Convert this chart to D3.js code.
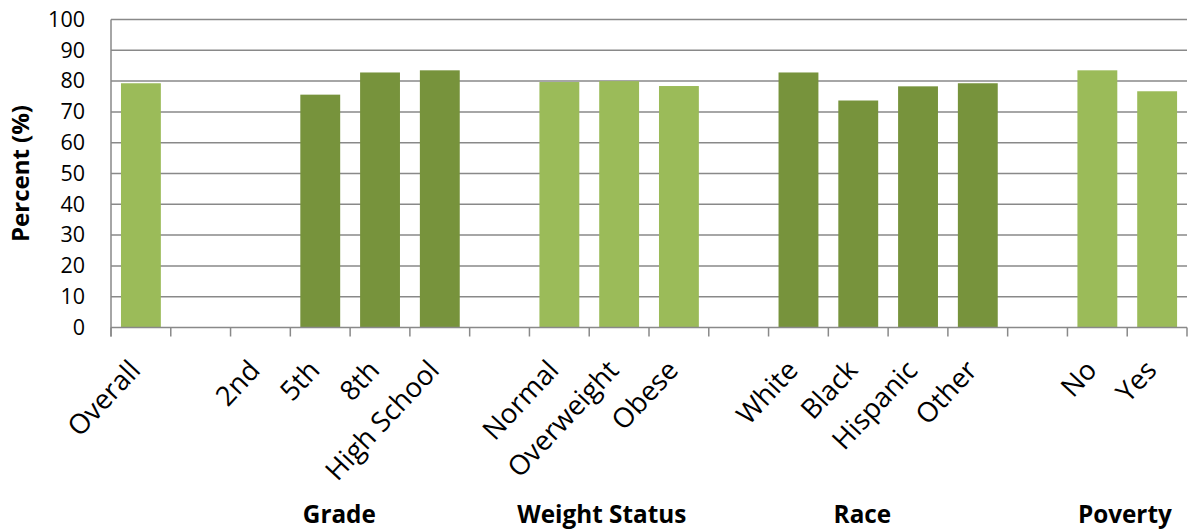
<!DOCTYPE html>
<html>
<head>
<meta charset="utf-8">
<script src="https://cdn.jsdelivr.net/npm/d3@7"></script>
<style>
  html, body { margin: 0; padding: 0; background: #fff; }
  svg { display: block; }
  text { font-family: "Open Sans", sans-serif; fill: #000; }
</style>
</head>
<body>
<svg id="chart" width="1191" height="531"></svg>
<script>
// ---- data ----
const categories = ["Overall", "", "2nd", "5th", "8th", "High School", "", "Normal", "Overweight", "Obese", "", "White", "Black", "Hispanic", "Other", "", "No", "Yes"];
const values = [79.3, null, null, 75.6, 82.8, 83.5, null, 79.7, 80.0, 78.4, null, 82.8, 73.7, 78.3, 79.3, null, 83.5, 76.7];
const shade = ["light", null, "dark", "dark", "dark", "dark", null, "light", "light", "light", null, "dark", "dark", "dark", "dark", null, "light", "light"];
const groupNames = ["Grade", "Weight Status", "Race", "Poverty"];
const groupCenters = [3.82, 8.21, 12.57, 16.96]; // in category units
const yTicks = [0, 10, 20, 30, 40, 50, 60, 70, 80, 90, 100];
const yTitle = "Percent (%)";

// ---- layout ----
const mLeft = 111, mRight = 1187, mTop = 19.5, mBottom = 327.5;
const colors = { light: "#9BBB59", dark: "#77933C" };
const gridColor = "#898989";

const svg = d3.select("#chart");
const idx = d3.range(categories.length);

const x = d3.scaleBand().domain(idx).range([mLeft, mRight]).paddingInner(0).paddingOuter(0);
const xLin = d3.scaleLinear().domain([0, categories.length]).range([mLeft, mRight]);
const y = d3.scaleLinear().domain([0, 100]).range([mBottom, mTop]);

// gridlines
svg.append("g").selectAll("line").data(yTicks.filter(d => d > 0)).join("line")
  .attr("x1", mLeft).attr("x2", mRight)
  .attr("y1", d => y(d)).attr("y2", d => y(d))
  .attr("stroke", gridColor).attr("stroke-width", 1.5);

// bars
const bw = x.bandwidth();
svg.append("g").selectAll("rect").data(idx.filter(i => values[i] != null)).join("rect")
  .attr("x", i => x(i) + bw * 0.167)
  .attr("width", bw * 0.667)
  .attr("y", i => y(values[i]))
  .attr("height", i => y(0) - y(values[i]))
  .attr("fill", i => colors[shade[i]]);

// y axis
const yAxis = d3.axisLeft(y).tickValues(yTicks).tickSize(0).tickPadding(26);
const gy = svg.append("g").attr("transform", `translate(${mLeft},0)`).call(yAxis);
gy.select(".domain").remove();
gy.selectAll("text").style("font-size", "21.5px").attr("font-family", "Open Sans").attr("fill", "#000");

// x axis: boundary ticks
const gx = svg.append("g");
gx.append("line").attr("x1", mLeft).attr("x2", mRight).attr("y1", mBottom).attr("y2", mBottom)
  .attr("stroke", gridColor).attr("stroke-width", 1.5);
gx.selectAll("line.tick").data(d3.range(categories.length + 1)).join("line")
  .attr("class", "tick")
  .attr("x1", d => xLin(d)).attr("x2", d => xLin(d))
  .attr("y1", mBottom).attr("y2", mBottom + 9)
  .attr("stroke", gridColor).attr("stroke-width", 1.5);
gx.append("line").attr("x1", mLeft).attr("x2", mLeft).attr("y1", mTop).attr("y2", mBottom + 9)
  .attr("stroke", gridColor).attr("stroke-width", 1.5);

// category labels
gx.selectAll("text.cat").data(idx.filter(i => categories[i] !== "")).join("text")
  .attr("class", "cat")
  .attr("text-anchor", "end")
  .attr("transform", i => `translate(${x(i) + bw / 2 + 1},${mBottom + 44}) rotate(-47)`)
  .style("font-size", "27.5px")
  .text(i => categories[i]);

// group labels
svg.append("g").selectAll("text").data(groupNames).join("text")
  .attr("x", (d, i) => xLin(groupCenters[i]))
  .attr("y", 523)
  .attr("text-anchor", "middle")
  .style("font-size", "24.3px").style("font-weight", "bold")
  .text(d => d);

// y title
svg.append("text")
  .attr("transform", `translate(29,${(mTop + mBottom) / 2}) rotate(-90)`)
  .attr("text-anchor", "middle")
  .style("font-size", "24px").style("font-weight", "bold")
  .text(yTitle);
</script>
</body>
</html>
